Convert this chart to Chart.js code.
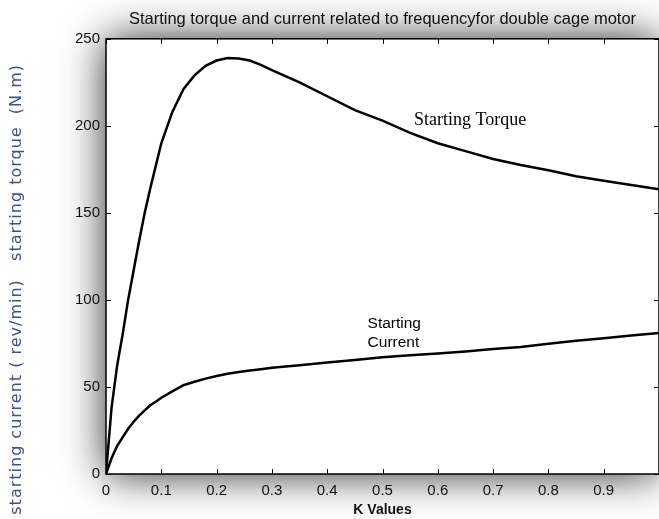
<!DOCTYPE html>
<html>
<head>
<meta charset="utf-8">
<script src="https://cdn.jsdelivr.net/npm/chart.js@4/dist/chart.umd.min.js"></script>
<style>
  html, body { margin: 0; padding: 0; background: #fff; }
  #wrap { width: 659px; height: 519px; position: relative; }
</style>
</head>
<body>
<div id="wrap"><canvas id="c" width="659" height="519"></canvas></div>
<script>
// ---- data ----
const kValues = [0, 0.01, 0.02, 0.03, 0.04, 0.05, 0.06, 0.07, 0.08, 0.09, 0.10,
  0.12, 0.14, 0.16, 0.18, 0.20, 0.22, 0.24, 0.26, 0.28, 0.30,
  0.35, 0.40, 0.45, 0.50, 0.55, 0.60, 0.65, 0.70, 0.75, 0.80, 0.85, 0.90, 0.95, 1.00];
const startingTorque = [0, 38, 62, 80, 100, 117, 134, 150, 164, 177, 190,
  208, 221, 229, 234.5, 237.5, 239, 238.7, 237.5, 235, 232,
  225, 217, 209, 203, 196, 190, 185.5, 181, 177.5, 174.5, 171, 168.5, 166, 163.5];
const startingCurrent = [0, 9, 16, 21, 26, 30, 33.5, 36.5, 39.5, 41.5, 43.8,
  47.5, 51, 53, 54.8, 56.3, 57.6, 58.6, 59.5, 60.2, 61,
  62.5, 64, 65.5, 67, 68.2, 69.2, 70.4, 71.8, 73, 74.8, 76.6, 78, 79.5, 81];
const xTickStep = 0.1;
const yTickStep = 50;
const titleText = 'Starting torque and current related to frequencyfor double cage motor';
const xTitle = 'K Values';
const yTitle = 'starting current ( rev/min)   starting torque  (N.m)';
const torqueLabel = { text: 'Starting Torque', k: 0.557, v: 203 };
const currentLabel = { lines: ['Starting', 'Current'], k: 0.473, v: [86.6, 75.7] };

const toXY = (ys) => kValues.map((k, i) => ({ x: k, y: ys[i] }));

const framePlugin = {
  id: 'frame',
  beforeDraw(chart) {
    const { ctx, chartArea: a } = chart;
    ctx.save();
    ctx.fillStyle = '#fff';
    ctx.fillRect(0, 0, chart.width, chart.height);
    ctx.shadowColor = 'rgba(0,0,0,0.85)';
    ctx.shadowBlur = 40;
    ctx.fillRect(a.left, a.top, a.right - a.left, a.bottom - a.top);
    ctx.restore();
  },
  afterDraw(chart) {
    const { ctx, chartArea: a, scales } = chart;
    const xs = scales.x, ys = scales.y;
    ctx.save();
    ctx.strokeStyle = '#000';
    ctx.lineWidth = 1.5;
    ctx.strokeRect(a.left, a.top, a.right - a.left, a.bottom - a.top);
    ctx.lineWidth = 1;
    const L = 5;
    ctx.beginPath();
    xs.ticks.forEach(t => {
      const px = Math.round(xs.getPixelForValue(t.value)) + 0.5;
      ctx.moveTo(px, a.bottom); ctx.lineTo(px, a.bottom - L);
      ctx.moveTo(px, a.top); ctx.lineTo(px, a.top + L);
    });
    ys.ticks.forEach(t => {
      const py = Math.round(ys.getPixelForValue(t.value)) + 0.5;
      ctx.moveTo(a.left, py); ctx.lineTo(a.left + L, py);
      ctx.moveTo(a.right, py); ctx.lineTo(a.right - L, py);
    });
    ctx.stroke();

    // annotations
    ctx.fillStyle = '#000';
    ctx.textBaseline = 'middle';
    ctx.textAlign = 'left';
    ctx.font = '18px "Liberation Serif", "Times New Roman", serif';
    ctx.fillText(torqueLabel.text, xs.getPixelForValue(torqueLabel.k), ys.getPixelForValue(torqueLabel.v));
    ctx.font = '15.5px "Liberation Sans", Arial, sans-serif';
    currentLabel.lines.forEach((s, i) => {
      ctx.fillText(s, xs.getPixelForValue(currentLabel.k), ys.getPixelForValue(currentLabel.v[i]));
    });

    // rotated y title
    ctx.translate(17, 64);
    ctx.rotate(-Math.PI / 2);
    ctx.textAlign = 'right';
    ctx.textBaseline = 'middle';
    ctx.fillStyle = '#3a5488';
    ctx.font = '16px "DejaVu Sans", Verdana, sans-serif';
    try { ctx.letterSpacing = '1px'; } catch (e) {}
    ctx.fillText(yTitle, 0, 0);
    ctx.restore();
  }
};

new Chart(document.getElementById('c'), {
  type: 'line',
  data: {
    datasets: [
      { label: 'Starting Torque', data: toXY(startingTorque), borderColor: '#000', borderWidth: 2.5, pointRadius: 0, tension: 0, fill: false },
      { label: 'Starting Current', data: toXY(startingCurrent), borderColor: '#000', borderWidth: 2.5, pointRadius: 0, tension: 0, fill: false }
    ]
  },
  options: {
    responsive: false,
    animation: false,
    layout: { padding: { left: 0, right: 0, top: 0, bottom: 0 } },
    plugins: {
      legend: { display: false },
      tooltip: { enabled: false },
      title: {
        display: true,
        text: titleText,
        fullSize: false,
        color: '#111',
        font: { family: '"Liberation Sans", Arial, sans-serif', size: 16.5, weight: 'normal' },
        padding: { top: 10, bottom: 9 }
      }
    },
    scales: {
      x: {
        type: 'linear', min: 0, max: 1,
        grid: { display: false, drawTicks: false },
        border: { display: false },
        afterFit(s) { s.height = 45; s.paddingRight = 0; s.paddingLeft = 0; },
        ticks: {
          stepSize: xTickStep, padding: 8, color: '#111',
          font: { family: '"Liberation Sans", Arial, sans-serif', size: 15 },
          callback: (v) => v >= 1 ? '' : String(Math.round(v * 10) / 10)
        },
        title: { display: true, text: xTitle, color: '#111', padding: { top: 0, bottom: 0 },
          font: { family: '"Liberation Sans", Arial, sans-serif', size: 14, weight: 'bold' } }
      },
      y: {
        min: 0, max: 250,
        grid: { display: false, drawTicks: false },
        border: { display: false },
        afterFit(s) { s.width = 106; },
        ticks: { stepSize: yTickStep, padding: 6, color: '#111',
          font: { family: '"Liberation Sans", Arial, sans-serif', size: 15 } }
      }
    }
  },
  plugins: [framePlugin]
});
</script>
</body>
</html>
